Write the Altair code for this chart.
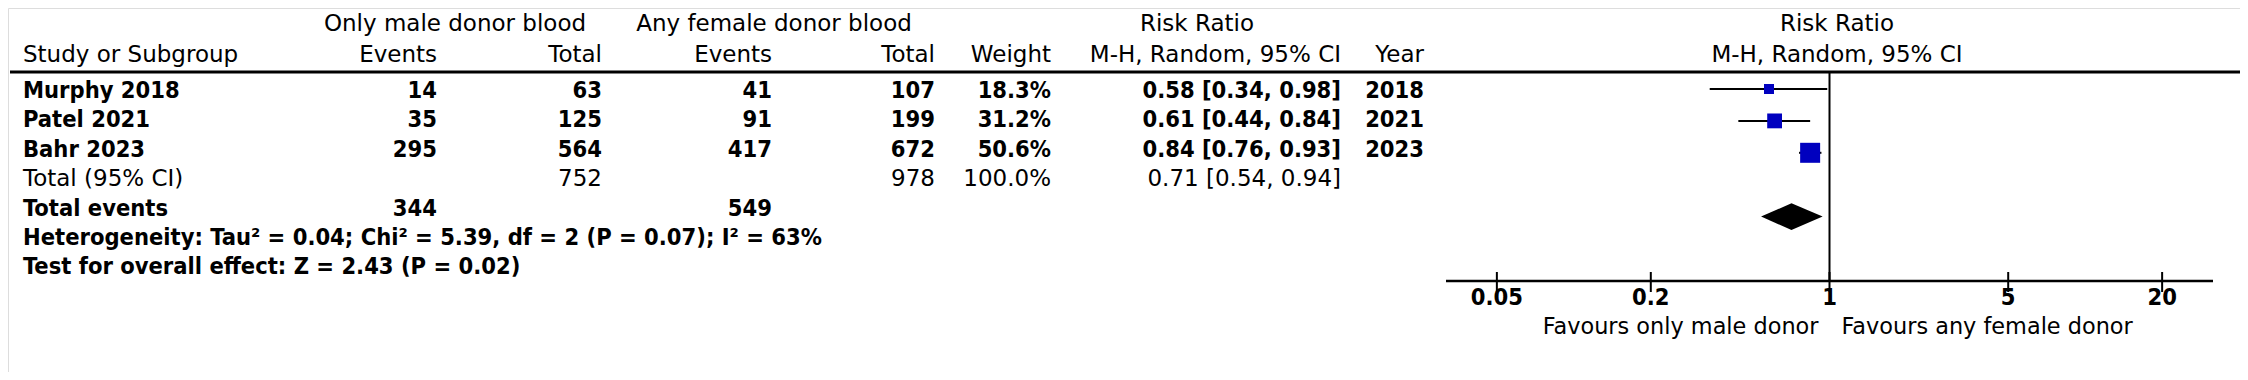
import altair as alt
import pandas as pd

# ---------------- data ----------------
studies = ["Murphy 2018", "Patel 2021", "Bahr 2023"]
male_events = [14, 35, 295]
male_totals = [63, 125, 564]
female_events = [41, 91, 417]
female_totals = [107, 199, 672]
weights = [18.3, 31.2, 50.6]
rr = [0.58, 0.61, 0.84]
rr_low = [0.34, 0.44, 0.76]
rr_high = [0.98, 0.84, 0.93]
years = [2018, 2021, 2023]

total_label = "Total (95% CI)"
total_male = 752
total_female = 978
total_weight = 100.0
pooled_rr = 0.71
pooled_low = 0.54
pooled_high = 0.94
total_events_male = 344
total_events_female = 549
heterogeneity = "Heterogeneity: Tau² = 0.04; Chi² = 5.39, df = 2 (P = 0.07); I² = 63%"
overall = "Test for overall effect: Z = 2.43 (P = 0.02)"

tick_values = [0.05, 0.2, 1, 5, 20]
tick_labels = ["0.05", "0.2", "1", "5", "20"]
axis_ends = [10 ** -1.5, 10 ** 1.5]
favours = ["Favours only male donor", "Favours any female donor"]

# ---------------- layout / style ----------------
W, H = 2232, 364
REG = "DejaVu Sans"
BOLD = "DejaVu Sans Condensed, DejaVu Sans"
HS = 23      # header size
BS = 23.5    # bold size
BLUE = "#0000BF"

text_y = alt.Scale(domain=[0, 10], range=[83, 83 + 10 * 29.4])
plot_y = alt.Scale(domain=[0, 10], range=[81, 81 + 10 * 31.9])
xs = alt.Scale(type="log", domain=axis_ends, range=[1438, 2205])

ci_str = [f"{a:.2f} [{b:.2f}, {c:.2f}]" for a, b, c in zip(rr, rr_low, rr_high)]
w_str = [f"{w:.1f}%" for w in weights]

study_df = pd.DataFrame({
    "row": [0, 1, 2],
    "prow": [0, 1, 2],
    "study": studies,
    "me": [str(v) for v in male_events],
    "mt": [str(v) for v in male_totals],
    "fe": [str(v) for v in female_events],
    "ft": [str(v) for v in female_totals],
    "w": w_str,
    "ci": ci_str,
    "year": [str(v) for v in years],
    "rr": rr, "lo": rr_low, "hi": rr_high, "weight": weights,
})

total_df = pd.DataFrame({
    "row": [3],
    "study": [total_label],
    "mt": [str(total_male)],
    "ft": [str(total_female)],
    "w": [f"{total_weight:.1f}%"],
    "ci": [f"{pooled_rr:.2f} [{pooled_low:.2f}, {pooled_high:.2f}]"],
})

events_df = pd.DataFrame({
    "row": [4],
    "study": ["Total events"],
    "me": [str(total_events_male)],
    "fe": [str(total_events_female)],
})

stat_df = pd.DataFrame({"row": [5, 6], "study": [heterogeneity, overall]})

layers = []


def col_text(df, field, x, align, font, size, weight="normal"):
    return alt.Chart(df).mark_text(
        align=align, baseline="middle", font=font, fontSize=size,
        fontWeight=weight, color="black"
    ).encode(
        x=alt.value(x),
        y=alt.Y("row:Q", scale=text_y, axis=None),
        text=alt.Text(f"{field}:N"),
    )


# study rows (bold)
cols = [("study", 15, "left"), ("me", 429, "right"), ("mt", 594, "right"),
        ("fe", 764, "right"), ("ft", 927, "right"), ("w", 1043, "right"),
        ("ci", 1333, "right"), ("year", 1416, "right")]
for f, x, a in cols:
    layers.append(col_text(study_df, f, x, a, BOLD, BS, "bold"))

# total row (regular)
for f, x, a in [("study", 15, "left"), ("mt", 594, "right"), ("ft", 927, "right"),
                ("w", 1043, "right"), ("ci", 1333, "right")]:
    layers.append(col_text(total_df, f, x, a, REG, HS))

# total events (bold)
for f, x, a in [("study", 15, "left"), ("me", 429, "right"), ("fe", 764, "right")]:
    layers.append(col_text(events_df, f, x, a, BOLD, BS, "bold"))

# statistics lines (bold)
layers.append(col_text(stat_df, "study", 15, "left", BOLD, BS, "bold"))

# headers
header_df = pd.DataFrame({
    "t": ["Only male donor blood", "Any female donor blood", "Risk Ratio", "Risk Ratio",
          "Study or Subgroup", "Events", "Total", "Events", "Total", "Weight",
          "M-H, Random, 95% CI", "Year", "M-H, Random, 95% CI"],
})
hdr_pos = [(447, 16, "center"), (766, 16, "center"), (1189, 16, "center"), (1829, 16, "center"),
           (15, 47, "left"), (429, 47, "right"), (594, 47, "right"), (764, 47, "right"),
           (927, 47, "right"), (1043, 47, "right"), (1333, 47, "right"), (1416, 47, "right"),
           (1829, 47, "center")]
for i, (x, y, a) in enumerate(hdr_pos):
    layers.append(
        alt.Chart(header_df.iloc[[i]]).mark_text(
            align=a, baseline="middle", font=REG, fontSize=HS, color="black"
        ).encode(x=alt.value(x), y=alt.value(y), text="t:N")
    )

# header rule
layers.append(
    alt.Chart(pd.DataFrame({"a": [0]})).mark_rule(color="black", strokeWidth=3).encode(
        x=alt.value(2), x2=alt.value(W), y=alt.value(64)
    )
)

# ---------------- forest plot ----------------
one_df = pd.DataFrame({"x": [1]})
layers.append(
    alt.Chart(one_df).mark_rule(color="black", strokeWidth=2).encode(
        x=alt.X("x:Q", scale=xs, axis=None), y=alt.value(64), y2=alt.value(273)
    )
)

layers.append(
    alt.Chart(study_df).mark_rule(color="black", strokeWidth=2).encode(
        x=alt.X("lo:Q", scale=xs, axis=None), x2="hi:Q",
        y=alt.Y("prow:Q", scale=plot_y, axis=None),
    )
)
layers.append(
    alt.Chart(study_df).mark_square(filled=True, opacity=1, color=BLUE).encode(
        x=alt.X("rr:Q", scale=xs, axis=None),
        y=alt.Y("prow:Q", scale=plot_y, axis=None),
        size=alt.Size("weight:Q", scale=alt.Scale(domain=[min(weights), max(weights)], range=[100, 400]), legend=None),
    )
)

half = 13.3 / 31.9
diamond_df = pd.DataFrame({
    "x": [pooled_low, pooled_rr, pooled_high],
    "top": [4, 4 - half, 4],
    "bot": [4, 4 + half, 4],
})
layers.append(
    alt.Chart(diamond_df).mark_area(color="black", opacity=1).encode(
        x=alt.X("x:Q", scale=xs, axis=None),
        y=alt.Y("top:Q", scale=plot_y, axis=None),
        y2="bot:Q",
    )
)

# axis
axis_df = pd.DataFrame({"a": [axis_ends[0]], "b": [axis_ends[1]]})
layers.append(
    alt.Chart(axis_df).mark_rule(color="black", strokeWidth=2.5).encode(
        x=alt.X("a:Q", scale=xs, axis=None), x2="b:Q", y=alt.value(273)
    )
)
tick_df = pd.DataFrame({"v": tick_values, "lab": tick_labels})
layers.append(
    alt.Chart(tick_df).mark_rule(color="black", strokeWidth=2).encode(
        x=alt.X("v:Q", scale=xs, axis=None), y=alt.value(264), y2=alt.value(284)
    )
)
layers.append(
    alt.Chart(tick_df).mark_text(
        baseline="middle", align="center", font=BOLD, fontSize=BS, fontWeight="bold", color="black"
    ).encode(x=alt.X("v:Q", scale=xs, axis=None), y=alt.value(290), text="lab:N")
)

fav_df = pd.DataFrame({"x": [1, 1], "t": favours})
layers.append(
    alt.Chart(fav_df.iloc[[0]]).mark_text(
        align="right", baseline="middle", font=REG, fontSize=22.4, color="black", dx=-11
    ).encode(x=alt.X("x:Q", scale=xs, axis=None), y=alt.value(319), text="t:N")
)
layers.append(
    alt.Chart(fav_df.iloc[[1]]).mark_text(
        align="left", baseline="middle", font=REG, fontSize=22.4, color="black", dx=12
    ).encode(x=alt.X("x:Q", scale=xs, axis=None), y=alt.value(319), text="t:N")
)

chart = alt.layer(*layers).resolve_scale(y="independent", size="independent").properties(
    width=W, height=H, autosize=alt.AutoSizeParams(type="none"), padding=0
).configure_view(stroke=None).configure(background="white")

chart.save("out.html", embed_options={"renderer": "svg", "actions": False})
